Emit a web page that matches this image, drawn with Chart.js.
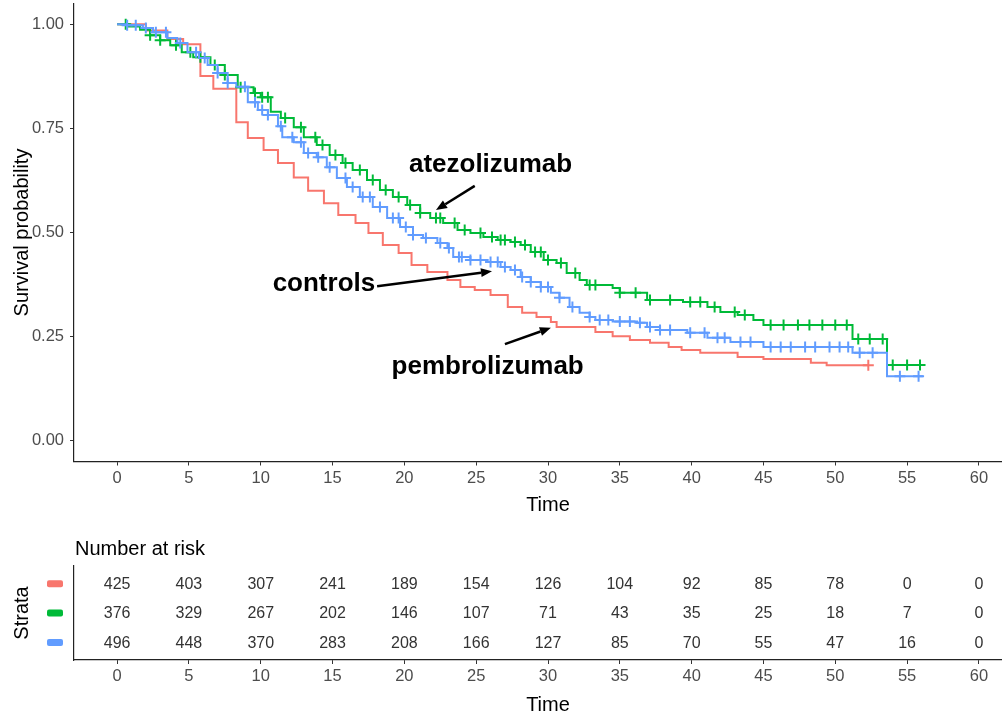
<!DOCTYPE html>
<html><head><meta charset="utf-8">
<script src="https://cdn.jsdelivr.net/npm/chart.js@4.4.1/dist/chart.umd.min.js"></script>
<style>
html,body{margin:0;padding:0;background:#fff;overflow:hidden;width:1002px;height:716px;}
#wrap{position:relative;width:1002px;height:716px;overflow:hidden;background:#fff;}
canvas{position:absolute;left:0;}
#km{top:0;}
#risk{top:530px;}
</style></head><body>
<div id="wrap"><canvas id="km" width="1025" height="530"></canvas><canvas id="risk" width="1025" height="186"></canvas></div>
<script>
// ---------- data ----------
const timeTicks = [0,5,10,15,20,25,30,35,40,45,50,55,60];
const survTicks = [0,0.25,0.5,0.75,1];

const redTimes = [0,2.0,3.5,4.6,5.8,6.7,8.3,9.1,10.2,11.2,12.3,13.3,14.4,15.4,16.6,17.5,18.5,19.6,20.5,21.6,23.0,23.9,24.9,26.0,27.2,28.2,29.2,30.2,30.6,33.3,34.5,35.7,37.1,38.4,39.3,40.6,43.2,45.0,48.3,49.4,52.3];
const redSurv  = [1,0.985,0.965,0.952,0.876,0.845,0.765,0.727,0.698,0.667,0.632,0.600,0.570,0.542,0.523,0.499,0.470,0.451,0.422,0.405,0.386,0.369,0.362,0.350,0.321,0.307,0.297,0.285,0.273,0.261,0.251,0.242,0.235,0.225,0.218,0.211,0.201,0.196,0.187,0.181,0.181];
const redCensor = [52.3];

const greenTimes = [0,0.8,1.6,2.3,3.0,3.7,4.5,5.3,6.5,7.5,8.4,9.5,10.0,10.7,11.4,12.3,13.0,13.9,14.8,15.7,16.4,17.4,18.3,19.2,20.2,21.1,21.8,22.7,23.7,24.6,25.5,26.5,27.4,28.1,28.8,29.7,30.6,31.3,32.2,32.7,34.5,35.0,36.9,39.4,41.1,42.0,43.2,44.3,45.0,51.2,53.6,56.1];
const greenSurv  = [1,0.995,0.987,0.974,0.962,0.950,0.933,0.921,0.902,0.878,0.849,0.835,0.825,0.790,0.775,0.753,0.729,0.710,0.686,0.667,0.650,0.626,0.602,0.585,0.566,0.547,0.535,0.523,0.506,0.499,0.489,0.482,0.477,0.470,0.453,0.434,0.427,0.403,0.386,0.374,0.367,0.355,0.338,0.333,0.321,0.309,0.302,0.290,0.278,0.244,0.182,0.182];
const greenCensor = [0.6,2.3,3.0,4.1,5.1,5.8,6.8,7.5,8.6,9.6,10.1,10.5,11.7,12.8,13.8,14.3,15.2,15.9,16.9,17.8,18.7,19.6,20.4,21.1,22.2,22.5,23.5,24.2,25.3,26.1,26.7,27.0,27.7,28.4,29.1,29.5,30.0,30.9,31.9,32.9,33.3,35.0,36.1,37.1,38.5,39.9,40.6,41.6,43.0,43.7,45.5,46.4,47.4,48.2,49.1,50.0,50.8,51.6,52.4,53.3,54.0,55.0,55.9];

const blueTimes = [0,0.7,1.8,2.5,3.5,4.2,4.9,5.7,6.3,7.0,7.7,8.3,9.1,9.8,10.5,11.2,11.5,12.3,13.0,13.9,14.6,15.3,16.0,16.9,17.8,18.8,19.7,20.6,21.3,22.3,23.0,23.4,24.6,25.8,26.7,27.4,28.1,28.8,29.5,30.2,30.8,31.5,32.2,32.9,33.3,34.5,36.2,36.9,37.8,39.7,41.1,42.7,45.0,51.2,53.6,56.1];
const blueSurv  = [1,0.998,0.991,0.981,0.967,0.955,0.933,0.919,0.902,0.883,0.859,0.850,0.813,0.794,0.782,0.755,0.729,0.717,0.691,0.681,0.657,0.631,0.609,0.585,0.561,0.535,0.513,0.494,0.487,0.475,0.463,0.441,0.434,0.429,0.417,0.410,0.393,0.381,0.369,0.355,0.343,0.321,0.307,0.297,0.290,0.286,0.283,0.273,0.266,0.259,0.247,0.237,0.225,0.211,0.155,0.155];
const blueCensor = [0.7,1.3,2.0,2.7,3.4,4.4,5.5,6.1,7.0,7.7,8.9,9.6,10.1,10.5,11.4,12.2,12.8,13.3,14.0,14.8,15.9,16.4,17.1,17.6,18.3,19.2,19.6,20.1,20.6,21.5,22.5,23.1,23.8,24.0,24.6,25.3,26.0,26.5,27.0,27.7,28.2,28.8,29.5,30.0,30.8,31.7,32.9,33.6,34.2,35.0,35.7,36.4,37.1,37.8,38.5,39.9,40.9,41.8,42.3,43.4,44.1,45.5,46.2,46.9,47.9,48.6,49.6,50.3,50.9,51.7,52.6,54.5,55.8];

const riskTimes = [0,5,10,15,20,25,30,35,40,45,50,55,60];
const riskRed   = [425,403,307,241,189,154,126,104,92,85,78,0,0];
const riskGreen = [376,329,267,202,146,107,71,43,35,25,18,7,0];
const riskBlue  = [496,448,370,283,208,166,127,85,70,55,47,16,0];

const annoLabels = ['atezolizumab','controls','pembrolizumab'];

// ---------- layout / style ----------
const strataColors = ['#F8766D','#00BA38','#619CFF'];
const annoPlace = [
  {tx:26.0, ty:0.662, from:[24.9,0.612], to:[22.2,0.554]},
  {tx:14.4, ty:0.376, from:[18.1,0.371], to:[26.1,0.407]},
  {tx:25.8, ty:0.177, from:[27.0,0.232], to:[30.2,0.271]}
];
const tickFont = {family:"'Liberation Sans',Arial,sans-serif", size:16.5};
const titleFont = {family:"'Liberation Sans',Arial,sans-serif", size:20};

function survAt(times, surv, t){ let s = surv[0]; for (let i=0;i<times.length;i++){ if (times[i] <= t) s = surv[i]; else break; } return s; }
function curve(times, surv){ return times.map((t,i)=>({x:t,y:surv[i]})); }
function marks(times, surv, cens){ return cens.map(t=>({x:t,y:survAt(times,surv,t)})); }
function noPad(s){ s.paddingLeft = 0; s.paddingRight = 0; s.paddingTop = 0; s.paddingBottom = 0; }

const strata = [
  {times:redTimes, surv:redSurv, cens:redCensor, risk:riskRed},
  {times:greenTimes, surv:greenSurv, cens:greenCensor, risk:riskGreen},
  {times:blueTimes, surv:blueSurv, cens:blueCensor, risk:riskBlue}
];

const kmDatasets = [];
strata.forEach((s,i)=>{
  kmDatasets.push({data:curve(s.times,s.surv), showLine:true, stepped:true, borderColor:strataColors[i], borderWidth:2, pointRadius:0, fill:false, order:3-i});
  kmDatasets.push({data:marks(s.times,s.surv,s.cens), showLine:false, pointStyle:'cross', pointRadius:5.5, borderColor:strataColors[i], backgroundColor:strataColors[i], borderWidth:2, order:3-i});
});

function xAxis(height, titlePadBottom){
  return {
    type:'linear', min:-3, max:63,
    afterBuildTicks: s => { s.ticks = timeTicks.map(v=>({value:v})); },
    afterFit: s => { s.height = height; noPad(s); },
    grid:{display:true, drawOnChartArea:false, drawTicks:true, tickLength:4, color:'#333', lineWidth:1},
    border:{display:true, color:'#222', width:1.2},
    ticks:{font:tickFont, color:'#4D4D4D', padding:3, maxRotation:0, autoSkip:false},
    title:{display:true, text:'Time', font:titleFont, color:'#000', padding:{top:0, bottom:titlePadBottom}}
  };
}

const annoPlugin = {
  id:'anno',
  afterDatasetsDraw(chart){
    const {ctx, scales:{x,y}} = chart;
    ctx.save();
    ctx.fillStyle = '#000'; ctx.strokeStyle = '#000';
    ctx.font = "bold 26px 'Liberation Sans', Arial, sans-serif";
    ctx.textAlign = 'center'; ctx.textBaseline = 'middle';
    annoLabels.forEach((lab,i)=>{
      const p = annoPlace[i];
      ctx.fillText(lab, x.getPixelForValue(p.tx), y.getPixelForValue(p.ty));
      const x1 = x.getPixelForValue(p.from[0]), y1 = y.getPixelForValue(p.from[1]);
      const x2 = x.getPixelForValue(p.to[0]), y2 = y.getPixelForValue(p.to[1]);
      const ang = Math.atan2(y2-y1, x2-x1);
      const L = 11, W = 4.5;
      const bx = x2 - L*Math.cos(ang), by = y2 - L*Math.sin(ang);
      ctx.lineWidth = 2.5;
      ctx.beginPath(); ctx.moveTo(x1,y1); ctx.lineTo(bx,by); ctx.stroke();
      ctx.beginPath();
      ctx.moveTo(x2,y2);
      ctx.lineTo(bx + W*Math.sin(ang), by - W*Math.cos(ang));
      ctx.lineTo(bx - W*Math.sin(ang), by + W*Math.cos(ang));
      ctx.closePath(); ctx.fill();
    });
    ctx.restore();
  }
};

new Chart(document.getElementById('km'), {
  type:'scatter',
  data:{datasets:kmDatasets},
  options:{
    responsive:false, animation:false, devicePixelRatio:1,
    layout:{autoPadding:false, padding:{top:3.5, left:0, right:3, bottom:0}},
    plugins:{legend:{display:false}, tooltip:{enabled:false}},
    scales:{
      x: xAxis(68.5, 13),
      y:{
        type:'linear', min:-0.05, max:1.05,
        afterBuildTicks: s => { s.ticks = survTicks.map(v=>({value:v})); },
        afterFit: s => { s.width = 74; noPad(s); },
        grid:{display:true, drawOnChartArea:false, drawTicks:true, tickLength:4, color:'#333', lineWidth:1},
        border:{display:true, color:'#222', width:1.2},
        ticks:{font:tickFont, color:'#4D4D4D', padding:6, callback:v=>Number(v).toFixed(2)},
        title:{display:true, text:'Survival probability', font:titleFont, color:'#000', padding:{top:10, bottom:0}}
      }
    }
  },
  plugins:[annoPlugin]
});

// ---------- risk table ----------
const riskDatasets = strata.map((s,i)=>({
  data: riskTimes.map((t,j)=>({x:t, y:i+1, n:s.risk[j]})),
  showLine:false, pointRadius:0, borderColor:strataColors[i], backgroundColor:strataColors[i]
}));

const riskPlugin = {
  id:'riskText',
  afterDatasetsDraw(chart){
    const {ctx, chartArea, scales:{y}} = chart;
    ctx.save();
    ctx.font = "16px 'Liberation Sans', Arial, sans-serif";
    ctx.textAlign = 'center'; ctx.textBaseline = 'middle';
    chart.data.datasets.forEach((ds,i)=>{
      const meta = chart.getDatasetMeta(i);
      ctx.fillStyle = '#333';
      meta.data.forEach((el,j)=>{ ctx.fillText(String(ds.data[j].n), el.x, el.y + 1); });
      const yy = y.getPixelForValue(i+1);
      ctx.fillStyle = strataColors[i];
      ctx.beginPath();
      if (ctx.roundRect) ctx.roundRect(chartArea.left-27, yy-3.5, 16, 7, 2); else ctx.rect(chartArea.left-27, yy-3.5, 16, 7);
      ctx.fill();
    });
    ctx.fillStyle = '#000';
    ctx.font = "20px 'Liberation Sans', Arial, sans-serif";
    ctx.textAlign = 'left';
    ctx.fillText('Number at risk', chartArea.left + 1, 19);
    ctx.restore();
  }
};

new Chart(document.getElementById('risk'), {
  type:'scatter',
  data:{datasets:riskDatasets},
  options:{
    responsive:false, animation:false, devicePixelRatio:1,
    layout:{autoPadding:false, padding:{top:36, left:0, right:3, bottom:0}},
    plugins:{legend:{display:false}, tooltip:{enabled:false}},
    scales:{
      x: xAxis(56, -1),
      y:{
        type:'linear', min:0.4, max:3.6, reverse:true,
        afterFit: s => { s.width = 74; noPad(s); },
        grid:{display:false},
        border:{display:true, color:'#222', width:1.2},
        ticks:{display:false},
        title:{display:true, text:'Strata', font:titleFont, color:'#000', padding:{top:10, bottom:0}}
      }
    }
  },
  plugins:[riskPlugin]
});
</script>
</body></html>
